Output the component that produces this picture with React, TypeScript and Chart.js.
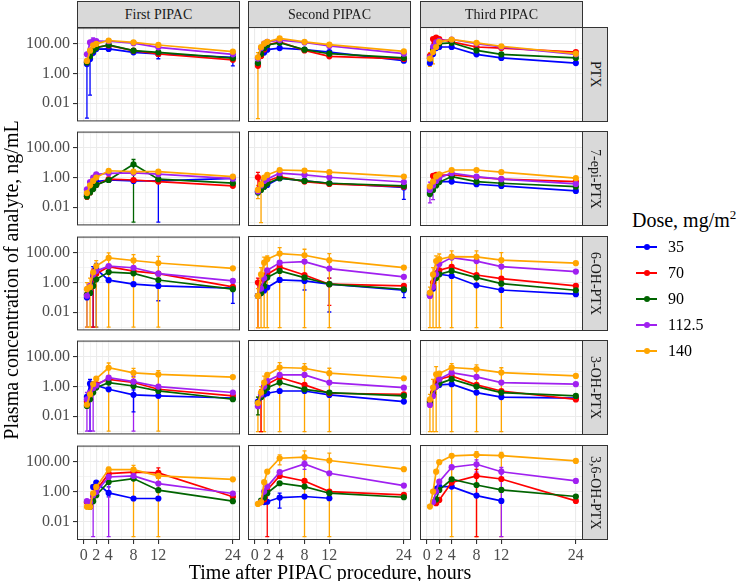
import React, { useEffect, useRef } from "react";
import { Chart, registerables } from "chart.js";

Chart.register(...registerables);

const FONT = '"Liberation Serif", "Times New Roman", Times, serif';

// ---------------- data ----------------
const TIMES = [0.5, 1, 1.5, 2, 4, 8, 12, 24];
const DOSES = ["35", "70", "90", "112.5", "140"];
const COLORS = ["#0000FF", "#FF0000", "#006400", "#A020F0", "#FFA500"];
const PIPACS = ["First PIPAC", "Second PIPAC", "Third PIPAC"];
const ANALYTES = ["PTX", "7-epi-PTX", "6-OH-PTX", "3-OH-PTX", "3,6-OH-PTX"];
const X_BREAKS = [0, 2, 4, 8, 12, 24];
const X_MINOR = [-1, 1, 3, 6, 10, 18, 25];
const Y_BREAKS = [0.01, 1, 100];
const Y_LABELS = ["0.01", "1.00", "100.00"];
const Y_MINOR = [0.001, 0.1, 10, 1000];

// rows: dose 35, 70, 90, 112.5, 140 ; columns: TIMES
const ptx1 = [
  [4.4, 9.5, 25, 45, 46, 27, 21, 12.6],
  [6, 20, 45, 60, 79, 35, 21, 8.5],
  [5.6, 15, 35, 55, 85, 35, 27, 11],
  [20, 126, 158, 158, 151, 112, 59, 20],
  [7.2, 35, 80, 100, 170, 129, 85, 30],
];
const ptx2 = [
  [4.4, 16, 25, 39, 50, 39, 27, 7.2],
  [3.3, 15, 40, 80, 129, 35, 14, 9.5],
  [5, 20, 50, 80, 112, 39, 21, 11],
  [10, 50, 100, 130, 170, 117, 69, 21],
  [12, 59, 100, 129, 219, 129, 85, 30],
];
const ptx3 = [
  [5, 20, 50, 59, 59, 19, 11, 5],
  [15, 200, 245, 200, 129, 59, 50, 27],
  [10, 40, 80, 100, 112, 35, 19, 11],
  [12, 60, 120, 150, 186, 100, 59, 19],
  [10, 27, 59, 129, 186, 112, 66, 21],
];
const epi1 = [
  [0.07, 0.19, 0.32, 0.54, 0.69, 0.6, 0.6, 0.9],
  [0.054, 0.1, 0.2, 0.32, 0.78, 0.69, 0.54, 0.28],
  [0.054, 0.1, 0.17, 0.32, 0.69, 7.8, 0.78, 0.42],
  [0.16, 0.5, 1.0, 1.66, 1.95, 2.1, 1.7, 0.85],
  [0.09, 0.3, 0.6, 1.0, 2.9, 2.5, 2.5, 1.17],
];
const epi2 = [
  [0.12, 0.19, 0.25, 0.32, 0.91, 0.6, 0.42, 0.22],
  [1.05, 0.2, 0.35, 0.6, 1.17, 0.54, 0.38, 0.25],
  [0.1, 0.15, 0.25, 0.4, 0.91, 0.6, 0.42, 0.28],
  [0.12, 0.3, 0.6, 0.8, 1.95, 1.5, 1.05, 0.51],
  [0.15, 0.35, 1.0, 1.5, 3.2, 2.95, 2.3, 1.17],
];
const epi3 = [
  [0.1, 0.3, 0.5, 0.55, 0.54, 0.36, 0.28, 0.13],
  [0.2, 1.3, 1.5, 1.4, 1.5, 1.05, 0.8, 0.54],
  [0.08, 0.15, 0.3, 0.5, 1.17, 0.54, 0.42, 0.25],
  [0.15, 0.3, 0.6, 1.0, 1.95, 1.17, 0.78, 0.38],
  [0.26, 0.54, 1.2, 1.66, 3.2, 3.2, 2.3, 0.91],
];
const oh6_1 = [
  [0.1, 0.2, 3, 8, 1.45, 0.78, 0.6, 0.42],
  [0.15, 0.5, 3, 4, 11.7, 6, 4, 0.52],
  [0.15, 0.2, 0.6, 1.66, 5.1, 4.2, 1.5, 0.36],
  [0.13, 0.6, 3.5, 6, 12.9, 10, 4, 1.3],
  [0.36, 0.5, 5, 12.9, 46, 31, 21, 9.1],
];
const oh6_2 = [
  [0.13, 0.2, 0.3, 0.47, 1.5, 1.3, 0.78, 0.31],
  [1.0, 0.47, 1.5, 3.6, 11, 3.2, 0.78, 0.6],
  [0.13, 0.2, 0.6, 2.15, 6, 2.15, 0.78, 0.36],
  [0.13, 0.4, 2, 6.6, 21, 25, 8.5, 2.4],
  [0.13, 3.5, 21, 36, 85, 66, 31, 10],
];
const oh6_3 = [
  [0.15, 0.4, 4, 3.6, 2.75, 0.66, 0.32, 0.17],
  [0.2, 1, 4, 6.6, 11, 3.2, 1.86, 0.6],
  [0.15, 0.5, 2, 3.6, 6, 2.15, 0.85, 0.31],
  [0.13, 0.5, 3.6, 17, 46, 27, 11.7, 5.4],
  [0.21, 3.5, 27, 36, 54, 52, 31, 19.5],
];
const oh3_1 = [
  [0.2, 1.58, 1.5, 1.2, 0.66, 0.28, 0.24, 0.17],
  [0.1, 0.3, 0.8, 1.5, 3.1, 1.9, 0.66, 0.24],
  [0.05, 0.14, 0.4, 0.86, 1.86, 1.1, 0.51, 0.14],
  [0.14, 0.4, 0.8, 1.2, 4, 2.15, 1.0, 0.4],
  [0.06, 0.3, 1.5, 3.4, 18.6, 8.5, 6.6, 4.4],
];
const oh3_2 = [
  [0.1, 0.2, 0.3, 0.36, 0.51, 0.51, 0.28, 0.1],
  [0.08, 0.3, 1, 1.43, 4, 1.3, 0.36, 0.31],
  [0.08, 0.2, 0.5, 0.85, 1.86, 0.66, 0.4, 0.24],
  [0.05, 0.3, 1, 2.4, 6, 6, 1.86, 0.85],
  [0.08, 0.4, 1.86, 6, 18.6, 16.6, 7.8, 3.6],
];
const oh3_3 = [
  [0.1, 0.3, 1.45, 1.3, 1.45, 0.4, 0.2, 0.17],
  [0.1, 0.4, 2, 3.1, 5.1, 1.3, 0.51, 0.14],
  [0.08, 0.3, 1, 1.58, 3.1, 1.0, 0.4, 0.24],
  [0.06, 0.24, 1, 3.1, 8.5, 4.4, 1.86, 1.45],
  [0.14, 0.86, 6.6, 7.4, 18.6, 14.5, 8.5, 5.1],
];
const oh36_1 = [
  [null, null, 2.15, 4.2, 0.85, 0.36, 0.36, null],
  [0.2, 0.13, 0.5, 1.3, 16.6, 21, 18.6, 0.47],
  [null, 0.1, 0.24, 0.6, 4.6, 7.8, 1.3, 0.24],
  [0.24, 0.2, 0.6, 1.0, 10, 11.7, 3.6, 0.78],
  [0.1, 0.1, 0.8, 2.15, 31, 31, 11.7, 6.9],
];
const oh36_2 = [
  [null, null, 0.2, 0.21, 0.4, 0.47, 0.36, null],
  [null, 0.2, 0.3, 1.3, 11, 5.1, 1.0, 0.6],
  [null, 0.25, 0.4, 0.78, 3.6, 2.15, 0.78, 0.42],
  [null, 0.2, 1.0, 2.15, 19.5, 69, 16.6, 2.5],
  [0.15, 0.2, 4.2, 21, 166, 195, 117, 31],
];
const oh36_3 = [
  [null, null, 1.5, 2.15, 2.15, 0.54, 0.24, null],
  [null, null, 0.17, 0.28, 4, 11, 6.9, 0.24],
  [null, null, 0.3, 1.3, 6.6, 2.75, 1.3, 0.47],
  [null, 0.2, 1.0, 4.6, 42, 66, 21, 5.1],
  [0.1, 1.0, 21, 91, 240, 275, 251, 110],
];

// error bars: [dose index, time index, lower, upper]
const ptx1Err = [[0, 0, 0.001, 9], [0, 1, 0.035, 20], [0, 6, 10, 28], [0, 7, 3.3, 18], [3, 2, 60, 250]];
const ptx2Err = [[4, 0, 0.001, 25]];
const ptx3Err = [[4, 1, 4.4, 60], [4, 0, 3, 25]];
const epi1Err = [[2, 5, 0.001, 16.6], [0, 6, 0.001, 1.0], [1, 0, 0.036, 0.08]];
const epi2Err = [[4, 1, 0.001, 0.8], [4, 0, 0.04, 0.3], [1, 0, 0.22, 2.2], [0, 7, 0.035, 0.5]];
const epi3Err = [[3, 0, 0.021, 0.5], [3, 1, 0.034, 1]];
const oh6_1Err = [[0, 2, 0.001, 12], [0, 3, 0.001, 20], [0, 6, 0.06, 1.5], [0, 7, 0.04, 1], [3, 0, 0.001, 0.5], [4, 0, 0.001, 1], [4, 1, 0.001, 2], [4, 3, 0.001, 30], [4, 4, 0.001, 100], [4, 5, 0.001, 77], [4, 6, 0.001, 59], [1, 2, 0.001, 8]];
const oh6_2Err = [[0, 5, 0.32, 4], [0, 6, 0.011, 2], [0, 7, 0.1, 0.6], [1, 0, 0.001, 2], [1, 6, 0.03, 2], [4, 0, 0.001, 0.4], [4, 1, 0.001, 10], [4, 2, 0.001, 50], [4, 3, 0.001, 60], [4, 4, 0.001, 214], [4, 5, 0.001, 166], [4, 6, 0.001, 85]];
const oh6_3Err = [[4, 0, 0.001, 0.5], [4, 1, 0.001, 10], [4, 2, 0.001, 60], [4, 3, 0.001, 80], [4, 4, 0.001, 130], [4, 5, 0.001, 130], [4, 6, 0.001, 100]];
const oh3_1Err = [[0, 1, 0.001, 3], [3, 0, 0.001, 0.4], [3, 1, 0.001, 1], [3, 2, 0.001, 2], [3, 5, 0.001, 5], [0, 5, 0.02, 0.6], [4, 4, 0.001, 39], [4, 5, 4, 17], [4, 6, 0.001, 12]];
const oh3_2Err = [[4, 0, 0.001, 0.2], [4, 1, 0.001, 1], [4, 2, 0.001, 5], [1, 1, 0.001, 0.6], [4, 4, 0.001, 39], [4, 5, 0.001, 34], [4, 6, 0.001, 16.6], [2, 0, 0.013, 0.2]];
const oh3_3Err = [[4, 0, 0.001, 0.3], [4, 1, 0.001, 3], [4, 2, 0.001, 21], [4, 4, 0.001, 34], [4, 5, 0.001, 28], [4, 6, 0.001, 18]];
const oh36_1Err = [[0, 4, 0.47, 2.15], [1, 6, 8, 40], [3, 2, 0.001, 1], [3, 4, 0.001, 20], [4, 4, 15, 46], [4, 5, 0.001, 60], [4, 6, 0.001, 20]];
const oh36_2Err = [[0, 4, 0.08, 0.78], [1, 3, 0.001, 2], [4, 4, 60, 280], [4, 5, 0.001, 513], [4, 6, 0.001, 360], [3, 5, 30, 130]];
const oh36_3Err = [[4, 4, 0.001, 275], [4, 5, 0.001, 450], [4, 6, 0.001, 400], [3, 6, 0.001, 40], [3, 5, 20, 130], [1, 5, 0.001, 30]];

const VALUES = [
  [ptx1, ptx2, ptx3],
  [epi1, epi2, epi3],
  [oh6_1, oh6_2, oh6_3],
  [oh3_1, oh3_2, oh3_3],
  [oh36_1, oh36_2, oh36_3],
];
const ERRORS = [
  [ptx1Err, ptx2Err, ptx3Err],
  [epi1Err, epi2Err, epi3Err],
  [oh6_1Err, oh6_2Err, oh6_3Err],
  [oh3_1Err, oh3_2Err, oh3_3Err],
  [oh36_1Err, oh36_2Err, oh36_3Err],
];

// ---------------- layout ----------------
const COL_X = [77, 248, 420];
const ROW_Y = [27, 131, 236, 340, 445];
const PW = 163;
const PH = 95;
const M = 12;
const X_MIN = -1.1;
const X_MAX = 25.15;
const Y_MIN = 0.00063;
const Y_MAX = 1260;

function Panel({ r, c }: { r: number; c: number }) {
  const ref = useRef<HTMLCanvasElement | null>(null);
  const isLeft = c === 0;
  const isBottom = r === 4;
  const px = COL_X[c];
  const py = ROW_Y[r];
  const left = isLeft ? 0 : px - M;
  const top = py - M;
  const w = px + PW + M - left;
  const h = py + PH + (isBottom ? 30 : M) - top;

  useEffect(() => {
    const vals = VALUES[r][c];
    const errs = ERRORS[r][c];
    const datasets = DOSES.map((d, i) => {
      const pts: { x: number; y: number }[] = [];
      TIMES.forEach((t, j) => {
        const v = vals[i][j];
        if (v !== null && v !== undefined) pts.push({ x: t, y: v });
      });
      return {
        label: d,
        data: pts,
        borderColor: COLORS[i],
        backgroundColor: COLORS[i],
        pointBackgroundColor: COLORS[i],
        pointBorderWidth: 0,
        pointRadius: 3.1,
        pointHoverRadius: 3.1,
        borderWidth: 1.7,
        tension: 0,
        order: 4 - i,
        clip: 0,
      };
    });

    const errPlugin = {
      id: "errbars" + r + c,
      beforeDatasetsDraw(chart: any) {
        const { ctx, chartArea: a, scales } = chart;
        const xs = scales.x;
        const ys = scales.y;
        ctx.save();
        ctx.beginPath();
        ctx.rect(a.left, a.top, a.right - a.left, a.bottom - a.top);
        ctx.clip();
        ctx.lineWidth = 1.3;
        for (const [d, j, lo, hi] of errs) {
          const x = xs.getPixelForValue(TIMES[j]);
          const y1 = ys.getPixelForValue(lo);
          const y2 = ys.getPixelForValue(hi);
          ctx.strokeStyle = COLORS[d];
          ctx.beginPath();
          ctx.moveTo(x, y1);
          ctx.lineTo(x, y2);
          ctx.moveTo(x - 2, y1);
          ctx.lineTo(x + 2, y1);
          ctx.moveTo(x - 2, y2);
          ctx.lineTo(x + 2, y2);
          ctx.stroke();
        }
        ctx.restore();
      },
    };
    const borderPlugin = {
      id: "border" + r + c,
      afterDraw(chart: any) {
        const { ctx, chartArea: a } = chart;
        ctx.save();
        ctx.strokeStyle = "#333333";
        ctx.lineWidth = 1;
        ctx.strokeRect(a.left + 0.5, a.top + 0.5, a.right - a.left - 1, a.bottom - a.top - 1);
        ctx.restore();
      },
    };

    const chart = new Chart(ref.current as HTMLCanvasElement, {
      type: "line",
      data: { datasets },
      options: {
        animation: false,
        responsive: false,
        maintainAspectRatio: false,
        devicePixelRatio: 1,
        events: [],
        layout: {
          autoPadding: false,
          padding: { left: isLeft ? 0 : M, top: M, right: M, bottom: isBottom ? 0 : M },
        },
        plugins: { legend: { display: false }, tooltip: { enabled: false }, title: { display: false } },
        scales: {
          x: {
            type: "linear",
            min: X_MIN,
            max: X_MAX,
            afterBuildTicks: (s: any) => {
              s.ticks = [...X_MINOR, ...X_BREAKS].sort((a, b) => a - b).map((v) => ({ value: v }));
            },
            afterFit: (s: any) => {
              s.height = isBottom ? 30 : 0;
            },
            border: { display: false },
            grid: {
              color: "#EBEBEB",
              lineWidth: (ctx: any) => (X_BREAKS.includes(ctx.tick?.value) ? 1.1 : 0.55),
              drawTicks: isBottom,
              tickLength: 4,
              tickWidth: 1.1,
              tickColor: (ctx: any) => (X_BREAKS.includes(ctx.tick?.value) ? "#333333" : "rgba(0,0,0,0)"),
            },
            ticks: {
              display: isBottom,
              autoSkip: false,
              maxRotation: 0,
              minRotation: 0,
              padding: 2,
              color: "#4D4D4D",
              font: { family: FONT, size: 16 },
              callback: (v: any) => (X_BREAKS.includes(v) ? String(v) : ""),
            },
          },
          y: {
            type: "logarithmic",
            min: Y_MIN,
            max: Y_MAX,
            afterBuildTicks: (s: any) => {
              s.ticks = [...Y_MINOR, ...Y_BREAKS].sort((a, b) => a - b).map((v) => ({ value: v }));
            },
            afterFit: (s: any) => {
              s.width = isLeft ? COL_X[0] : 0;
            },
            border: { display: false },
            grid: {
              color: "#EBEBEB",
              lineWidth: (ctx: any) => (Y_BREAKS.includes(ctx.tick?.value) ? 1.1 : 0.55),
              drawTicks: isLeft,
              tickLength: 4,
              tickWidth: 1.1,
              tickColor: (ctx: any) => (Y_BREAKS.includes(ctx.tick?.value) ? "#333333" : "rgba(0,0,0,0)"),
            },
            ticks: {
              display: isLeft,
              autoSkip: false,
              padding: 3,
              color: "#4D4D4D",
              font: { family: FONT, size: 16 },
              callback: (v: any) => {
                const k = Y_BREAKS.indexOf(v);
                return k >= 0 ? Y_LABELS[k] : "";
              },
            },
          },
        },
      } as any,
      plugins: [errPlugin, borderPlugin],
    });
    return () => chart.destroy();
  }, [r, c]);

  return (
    <canvas
      ref={ref}
      width={w}
      height={h}
      style={{ position: "absolute", left, top, width: w, height: h }}
    />
  );
}

export default function App() {
  const panels = [];
  for (let r = 0; r < 5; r++) for (let c = 0; c < 3; c++) panels.push(<Panel key={`p${r}${c}`} r={r} c={c} />);

  const stripStyle: React.CSSProperties = {
    position: "absolute",
    boxSizing: "border-box",
    background: "#D9D9D9",
    border: "1px solid #333333",
    color: "#1A1A1A",
    fontSize: 14,
    fontFamily: FONT,
    display: "flex",
    alignItems: "center",
    justifyContent: "center",
    whiteSpace: "nowrap",
  };

  return (
    <div
      style={{
        position: "absolute",
        left: 0,
        top: 0,
        width: 750,
        height: 581,
        background: "#ffffff",
        fontFamily: FONT,
        overflow: "hidden",
      }}
    >
      {panels}
      {PIPACS.map((p, c) => (
        <div key={p} style={{ ...stripStyle, left: COL_X[c], top: 1, width: PW, height: 27 }}>
          {p}
        </div>
      ))}
      {ANALYTES.map((a, r) => (
        <div key={a} style={{ ...stripStyle, left: COL_X[2] + PW - 1, top: ROW_Y[r], width: 26, height: PH }}>
          <span style={{ writingMode: "vertical-rl" }}>{a}</span>
        </div>
      ))}
      <div
        style={{
          position: "absolute",
          left: 11 - 250,
          top: 280 - 12,
          width: 500,
          height: 24,
          lineHeight: "24px",
          textAlign: "center",
          fontSize: 20,
          color: "#000",
          transform: "rotate(-90deg)",
          whiteSpace: "nowrap",
        }}
      >
        Plasma concentration of analyte, ng/mL
      </div>
      <div
        style={{
          position: "absolute",
          left: 330 - 250,
          top: 572 - 12,
          width: 500,
          height: 24,
          lineHeight: "24px",
          textAlign: "center",
          fontSize: 20,
          color: "#000",
          whiteSpace: "nowrap",
        }}
      >
        Time after PIPAC procedure, hours
      </div>
      <div
        style={{
          position: "absolute",
          left: 632,
          top: 208,
          height: 24,
          lineHeight: "24px",
          fontSize: 20,
          color: "#000",
          whiteSpace: "nowrap",
        }}
      >
        Dose, mg/m<sup style={{ fontSize: 13, lineHeight: 0 }}>2</sup>
      </div>
      {DOSES.map((d, i) => (
        <div key={d} style={{ position: "absolute", left: 636, top: 247 + i * 26 - 10, height: 20, width: 110 }}>
          <div style={{ position: "absolute", left: 0, top: 9, width: 21, height: 2, background: COLORS[i] }} />
          <div
            style={{
              position: "absolute",
              left: 7.5,
              top: 7,
              width: 6,
              height: 6,
              borderRadius: 3,
              background: COLORS[i],
            }}
          />
          <div
            style={{
              position: "absolute",
              left: 32,
              top: 0,
              height: 20,
              lineHeight: "20px",
              fontSize: 16,
              color: "#000",
            }}
          >
            {d}
          </div>
        </div>
      ))}
    </div>
  );
}
